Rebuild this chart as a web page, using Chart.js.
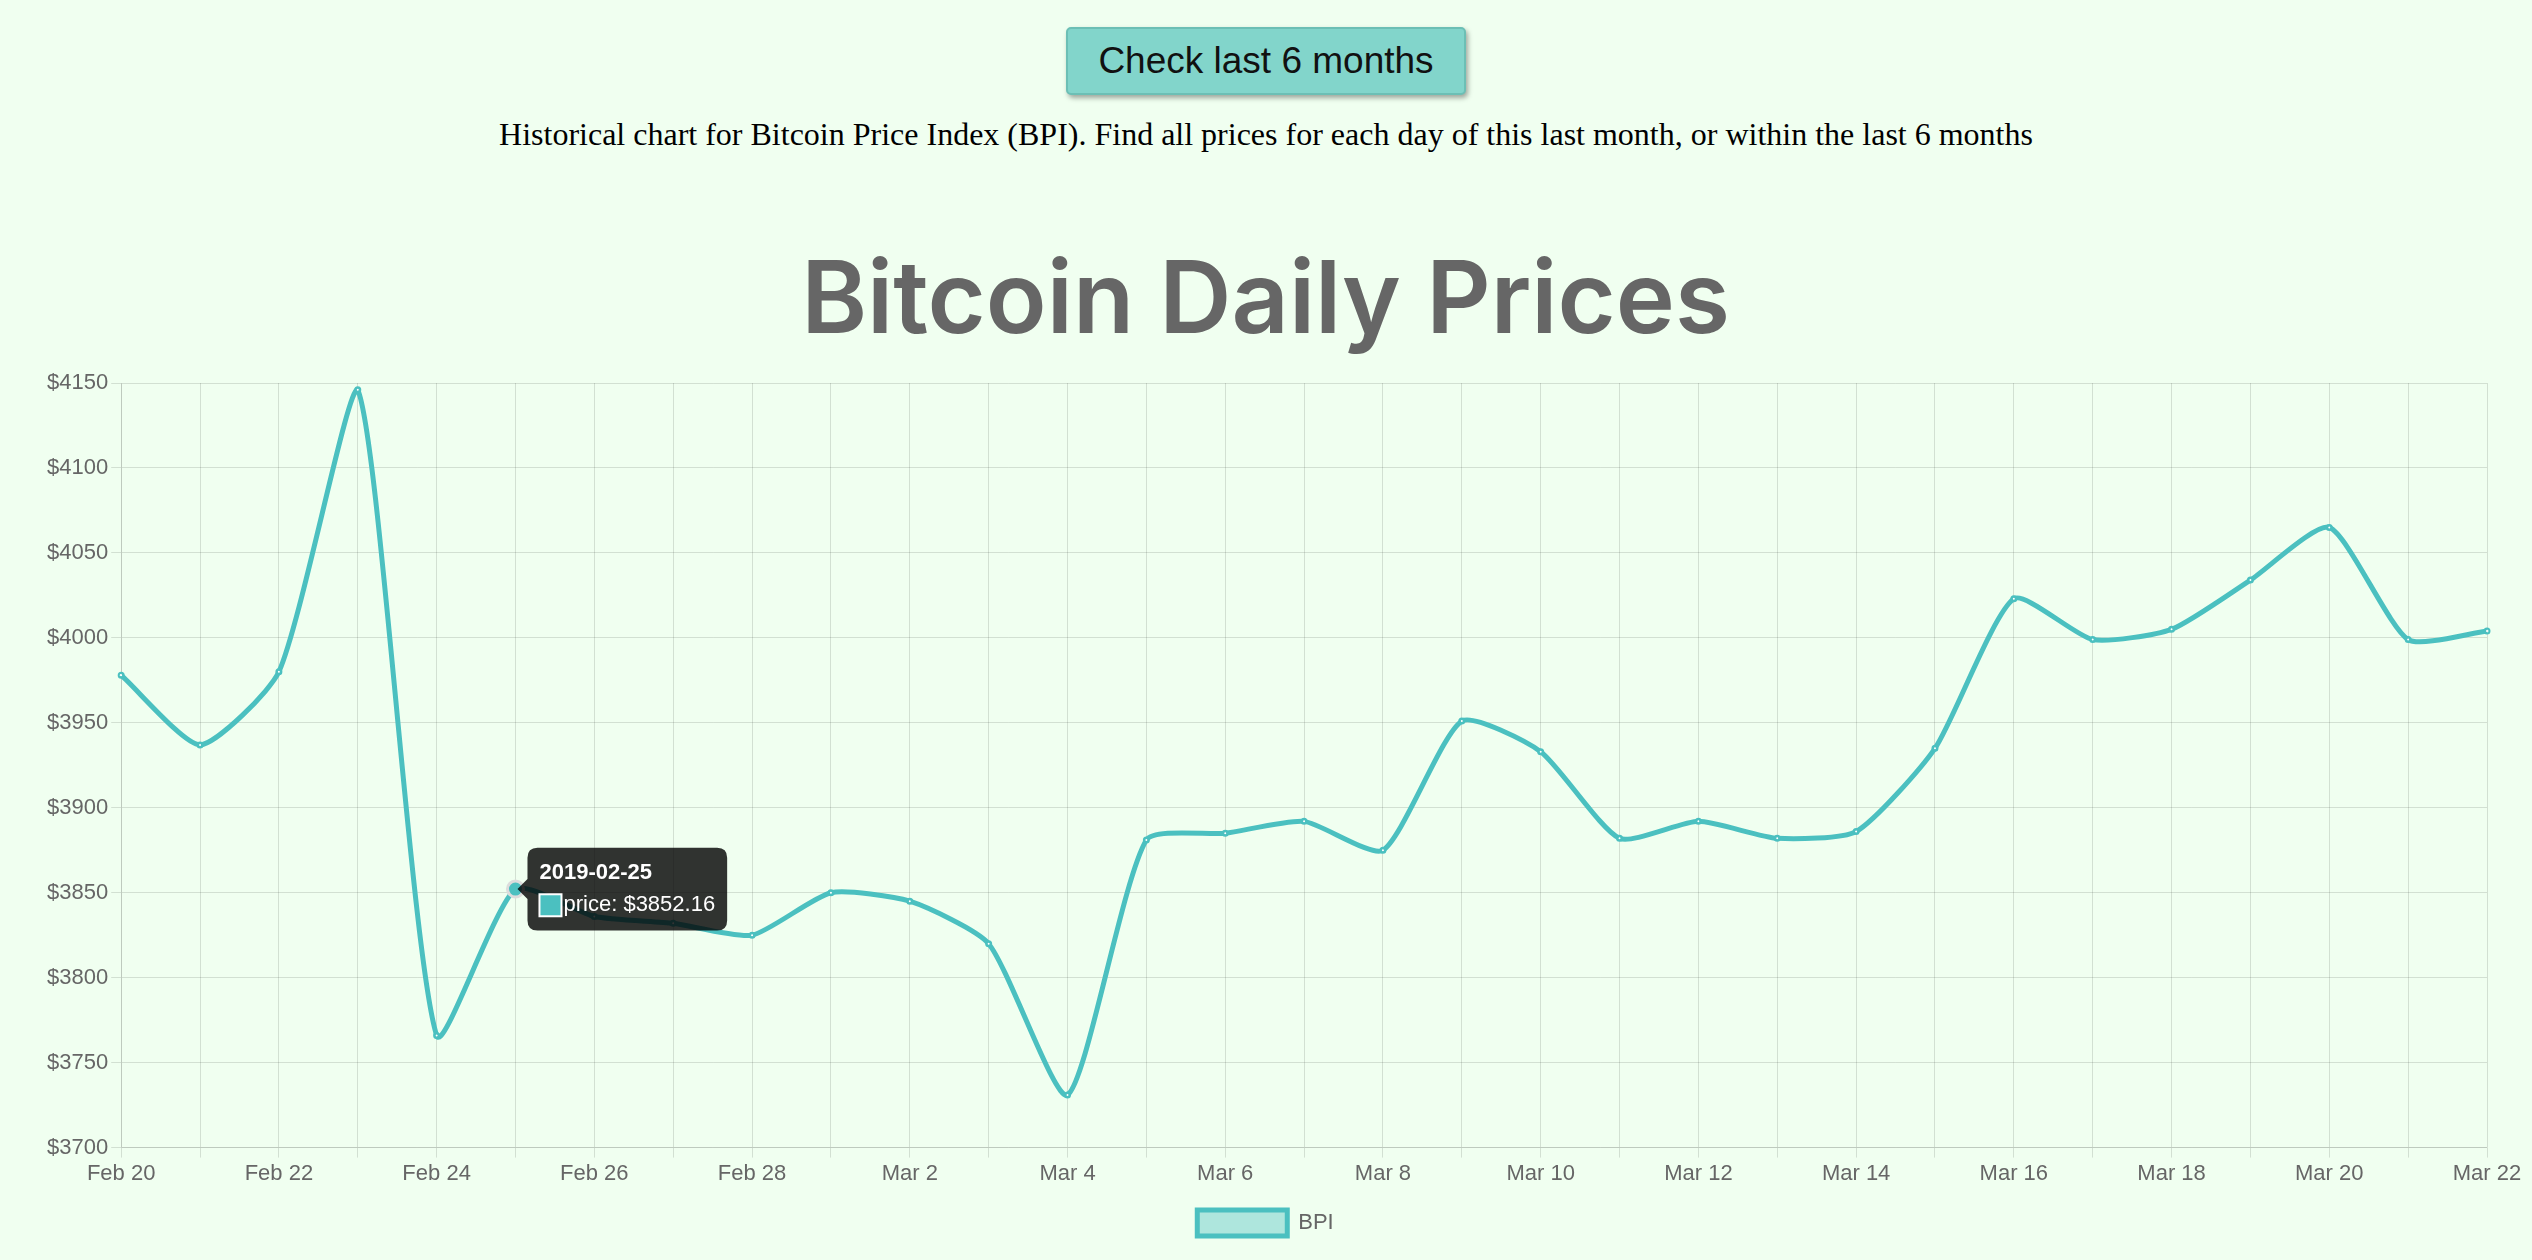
<!DOCTYPE html>
<html><head><meta charset="utf-8">
<script src="https://cdn.jsdelivr.net/npm/chart.js@4"></script>
<style>
html,body{margin:0;padding:0;background:#f0fff0;width:2532px;height:1260px;overflow:hidden}
#btn{position:absolute;left:1066px;top:27px;width:400px;height:68px;background:#82d5cb;border:2px solid #6cbfb5;border-radius:5px;box-shadow:2px 3px 5px rgba(0,0,0,0.35);font:37px "Liberation Sans",Arial,sans-serif;color:#111;display:flex;align-items:center;justify-content:center;box-sizing:border-box}
#desc{position:absolute;left:0;top:116px;width:2532px;text-align:center;font:32px "Liberation Serif","Times New Roman",serif;color:#000}
#wrap{position:absolute;left:0;top:233px;width:2532px;height:1027px}
</style></head><body>
<div id="btn">Check last 6 months</div>
<div id="desc">Historical chart for Bitcoin Price Index (BPI). Find all prices for each day of this last month, or within the last 6 months</div>
<div id="wrap"><canvas id="c"></canvas></div>
<script>
const dates=["2019-02-20","2019-02-21","2019-02-22","2019-02-23","2019-02-24","2019-02-25","2019-02-26","2019-02-27","2019-02-28","2019-03-01","2019-03-02","2019-03-03","2019-03-04","2019-03-05","2019-03-06","2019-03-07","2019-03-08","2019-03-09","2019-03-10","2019-03-11","2019-03-12","2019-03-13","2019-03-14","2019-03-15","2019-03-16","2019-03-17","2019-03-18","2019-03-19","2019-03-20","2019-03-21","2019-03-22"];
const labels=["Feb 20","Feb 21","Feb 22","Feb 23","Feb 24","Feb 25","Feb 26","Feb 27","Feb 28","Mar 1","Mar 2","Mar 3","Mar 4","Mar 5","Mar 6","Mar 7","Mar 8","Mar 9","Mar 10","Mar 11","Mar 12","Mar 13","Mar 14","Mar 15","Mar 16","Mar 17","Mar 18","Mar 19","Mar 20","Mar 21","Mar 22"];
const prices=[3978,3937,3980,4146,3766,3852.16,3836,3832,3825,3850,3845,3820,3731,3881,3885,3892,3875,3951,3933,3882,3892,3882,3886,3935,4023,3999,4005,4034,4065,3999,4004];
const tickFont={family:"'Liberation Sans',Arial,sans-serif",size:22};
Chart.defaults.color='#666';
const chart=new Chart(document.getElementById('c'),{
 type:'line',
 data:{labels:labels,datasets:[{label:'BPI',data:prices,borderColor:'rgb(75,192,192)',backgroundColor:'rgba(75,192,192,0.4)',borderWidth:5,pointRadius:1,pointHoverRadius:8,pointBackgroundColor:'#fff',pointHoverBackgroundColor:'rgb(75,192,192)',pointHoverBorderColor:'rgba(220,220,220,1)',pointHoverBorderWidth:3,tension:0.2,fill:false}]},
 options:{responsive:true,maintainAspectRatio:false,animation:false,devicePixelRatio:1,
  layout:{padding:{left:44,right:45,bottom:14}},
  scales:{
   x:{ticks:{font:tickFont,color:'#666',maxRotation:0,autoSkip:false,callback:(v,i)=>i%2===0?labels[i]:''},grid:{color:'rgba(0,0,0,0.12)',tickLength:10}},
   y:{min:3700,max:4150,ticks:{stepSize:50,font:tickFont,color:'#666',callback:v=>'$'+v},grid:{color:'rgba(0,0,0,0.12)',tickLength:10}}
  },
  plugins:{
   title:{display:true,text:'Bitcoin Daily Prices',font:{family:"Inter,'Liberation Sans',sans-serif",size:100,weight:'600'},color:'#666',padding:{top:10,bottom:20}},
   legend:{position:'bottom',labels:{font:tickFont,color:'#666',boxWidth:90,boxHeight:26,padding:20}},
   tooltip:{backgroundColor:'rgba(0,0,0,0.8)',titleFont:{family:"'Liberation Sans',Arial,sans-serif",size:22,weight:'bold'},bodyFont:{family:"'Liberation Sans',Arial,sans-serif",size:22},padding:12,caretSize:10,cornerRadius:10,xAlign:'left',
    callbacks:{title:(items)=>dates[items[0].dataIndex],label:(item)=>'price: $'+item.parsed.y.toFixed(2),
     labelColor:()=>({borderColor:'#fff',backgroundColor:'rgb(75,192,192)',borderWidth:2})}}
  }}
});
const el=[{datasetIndex:0,index:5}];
const m=chart.getDatasetMeta(0).data[5];
chart.setActiveElements(el);
chart.tooltip.setActiveElements(el,{x:m.x,y:m.y});
chart.update();
</script>
</body></html>
